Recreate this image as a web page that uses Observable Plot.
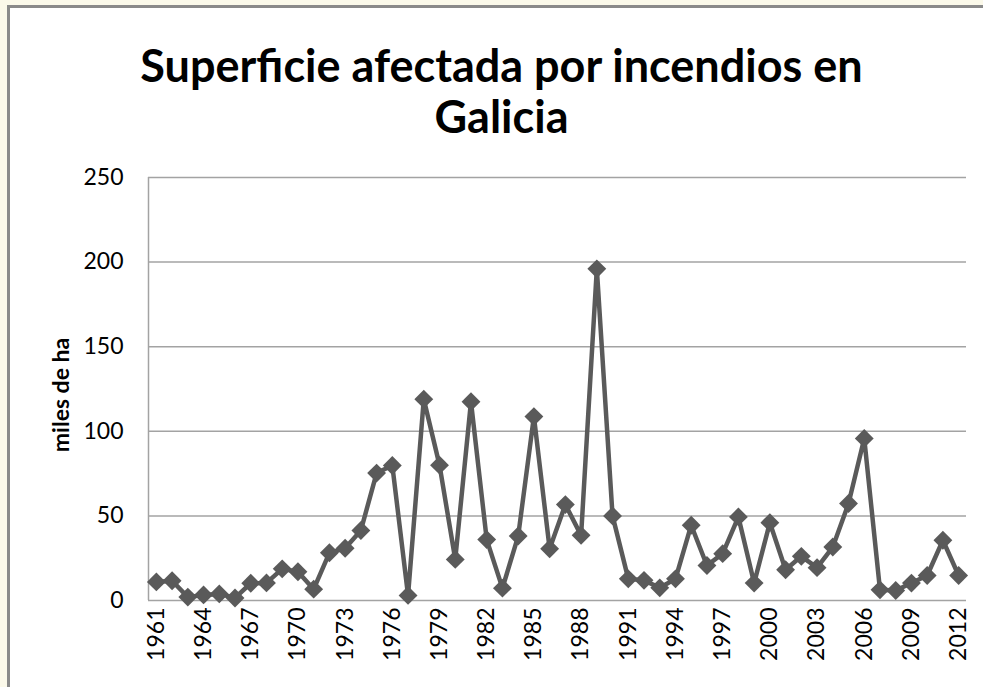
<!DOCTYPE html>
<html>
<head>
<meta charset="utf-8">
<script src="https://cdn.jsdelivr.net/npm/d3@7"></script>
<script src="https://cdn.jsdelivr.net/npm/@observablehq/plot@0.6"></script>
<style>
  html, body { margin: 0; padding: 0; width: 983px; height: 687px; overflow: hidden; background: #fbf9ea; }
  #frame { position: absolute; left: 7px; top: 5px; width: 1000px; height: 700px; background: #fff;
           border-left: 3px solid #8a8a8a; border-top: 3px solid #8a8a8a; }
  #title { position: absolute; left: 10px; top: 40px; width: 983px; text-align: center;
           font-family: Lato, sans-serif; font-weight: bold; font-size: 45px; line-height: 51px; color: #000; }
  #chart { position: absolute; left: 0; top: 150px; }
</style>
</head>
<body>
<div id="frame"></div>
<div id="title">Superficie afectada por incendios en<br>Galicia</div>
<div id="chart"></div>
<script>
const years = [1961,1962,1963,1964,1965,1966,1967,1968,1969,1970,1971,1972,1973,1974,1975,1976,1977,1978,1979,1980,
  1981,1982,1983,1984,1985,1986,1987,1988,1989,1990,1991,1992,1993,1994,1995,1996,1997,1998,1999,2000,
  2001,2002,2003,2004,2005,2006,2007,2008,2009,2010,2011,2012];
const values = [11,11.7,2,3.3,3.9,1.5,10.2,10.4,18.7,17,6.7,28.2,30.9,41.4,75.3,79.8,3,119,80,24.3,
  117.5,36,7.3,38.1,108.7,30.6,56.7,38.5,196,50,12.8,11.9,7.5,12.8,44.5,20.7,27.7,49.4,10.3,46,
  18.2,26.1,19.4,31.6,57.3,95.8,6.3,5.9,10.3,14.8,35.6,14.8];
const yTicks = [0, 50, 100, 150, 200, 250];
const xTicks = years.filter((d, i) => i % 3 === 0);
const yLabel = "miles de ha";

const data = years.map((year, i) => ({year, value: values[i]}));

const chart = Plot.plot({
  width: 983,
  height: 537,
  marginTop: 27,
  marginBottom: 87,
  marginLeft: 148,
  marginRight: 17,
  style: {background: "none", fontFamily: "Lato, sans-serif", fontSize: "23px", color: "#000"},
  x: {domain: [years[0] - 0.5, years[years.length - 1] + 0.5]},
  y: {domain: [0, 250]},
  marks: [
    Plot.gridY(yTicks, {stroke: "#a3a3a3", strokeOpacity: 1, strokeWidth: 1.5}),
    Plot.ruleX([years[0] - 0.5], {stroke: "#a3a3a3", strokeWidth: 1.5}),
    Plot.axisY(yTicks, {tickSize: 0, tickPadding: 25, label: null, fontSize: 23}),
    Plot.axisX(xTicks, {tickSize: 0, tickPadding: 7, tickRotate: -90, tickFormat: d => String(d), label: null, fontSize: 23}),
    Plot.text([yLabel], {frameAnchor: "left", textAnchor: "middle", rotate: -90, dx: -87, dy: 6, fontWeight: "bold", fontSize: 23, fill: "#000"}),
    Plot.line(data, {x: "year", y: "value", stroke: "#5a5a5a", strokeWidth: 4.5}),
    Plot.dot(data, {x: "year", y: "value", symbol: "diamond2", r: 8.5, fill: "#5a5a5a", stroke: "none"})
  ]
});
document.getElementById("chart").appendChild(chart);
</script>
</body>
</html>
